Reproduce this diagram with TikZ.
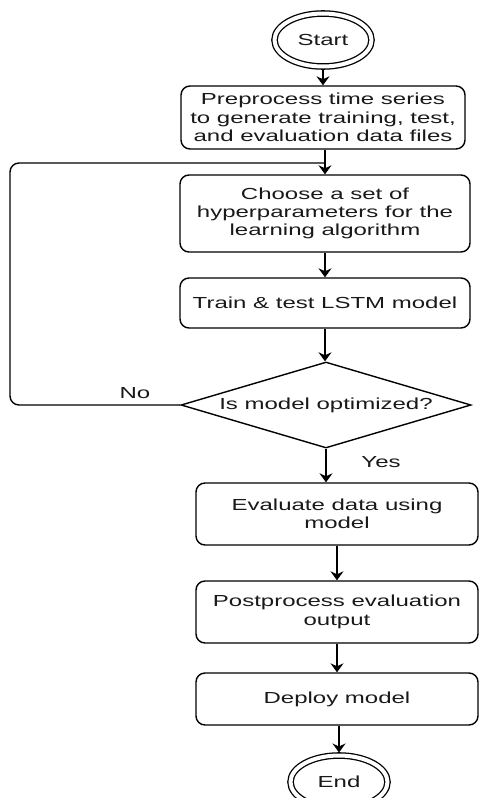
\documentclass[tikz,border=0pt]{standalone}
\usepackage{fontspec}
\setmainfont{Liberation Sans}[FakeStretch=1.5]
\usetikzlibrary{shapes.geometric,arrows.meta}

\tikzset{
  txt/.style={font=\fontsize{16}{18.3}\selectfont, text=black!90},
  proc/.style={txt, draw, rounded corners=9pt, line width=1.4pt, align=center, inner sep=0pt},
  term/.style={txt, ellipse, draw, double, double distance=4pt, line width=1.3pt,
    minimum width=97pt, minimum height=53pt, inner sep=0pt, outer sep=3pt},
  decide/.style={txt, diamond, draw, aspect=3.37, line width=1.4pt,
    minimum width=290pt, minimum height=86pt, inner sep=0pt},
  flow/.style={-{Stealth[length=9pt,width=13pt,inset=3pt]}, line width=1.4pt},
  wire/.style={line width=1.4pt}
}

\begin{document}
\begin{tikzpicture}[x=1pt,y=-1pt]
\useasboundingbox (0,0) rectangle (479,798);

\node[term] (start) at (323,40) {Start};
\node[proc, minimum width=284pt, minimum height=63pt] (prep) at (323,117.5)
  {Preprocess time series\\to generate training, test,\\and evaluation data files};
\node[proc, minimum width=290pt, minimum height=77pt] (hyper) at (325,213.5)
  {Choose a set of\\hyperparameters for the\\learning algorithm};
\node[proc, minimum width=290pt, minimum height=50pt] (train) at (325,303)
  {Train \& test LSTM model};
\node[decide] (opt) at (326,405) {Is model optimized?};
\node[proc, minimum width=282pt, minimum height=62pt] (eval) at (337,514)
  {Evaluate data using\\model};
\node[proc, minimum width=282pt, minimum height=62pt] (post) at (337,612)
  {Postprocess evaluation\\output};
\node[proc, minimum width=282pt, minimum height=52pt] (deploy) at (337,699)
  {Deploy model};
\node[term] (end) at (339,782) {End};

\node[txt] (no) at (135,393) {No};
\node[txt] (yes) at (381,462) {Yes};

\coordinate (loopbot) at (10,405);
\coordinate (looptop) at (10,163);
\coordinate (joint) at (325,163);

\draw[flow] (start) -- (prep);
\draw[flow] (prep.south -| hyper.north) -- (hyper.north);
\draw[flow] (hyper) -- (train);
\draw[flow] (train.south) -- (train.south |- opt.north);
\draw[flow] (opt.south) -- (opt.south |- eval.north);
\draw[flow] (eval) -- (post);
\draw[flow] (post) -- (deploy);
\draw[flow] (deploy.south -| end.north) -- (end.north);
\draw[wire, rounded corners=9pt] (opt.west) -- (loopbot) -- (looptop) -- (joint);
\end{tikzpicture}
\end{document}
